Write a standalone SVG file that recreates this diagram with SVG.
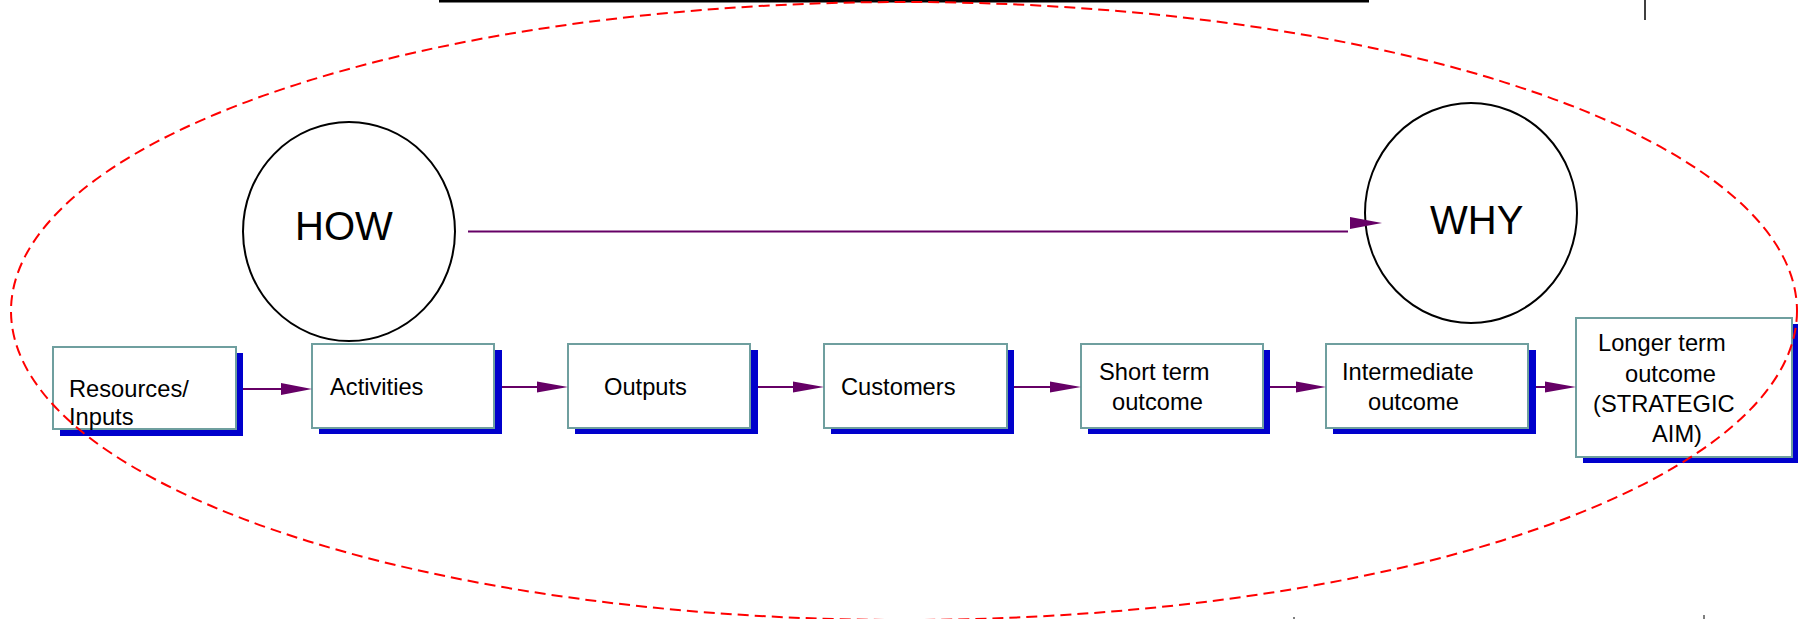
<svg xmlns="http://www.w3.org/2000/svg" width="1809" height="619" viewBox="0 0 1809 619">
<style>
.box{fill:#ffffff;stroke:#6f9f9f;stroke-width:2}
.shadow{fill:#0000cc}
.lbl{font-family:"Liberation Sans",Arial,sans-serif;font-size:23.7px;fill:#000}
.big{font-family:"Liberation Sans",Arial,sans-serif;font-size:40px;fill:#000}
.circ{fill:#fff;stroke:#000;stroke-width:2}
.conn{stroke:#660066;stroke-width:2;fill:none}
.head{fill:#660066}
</style>
<rect width="1809" height="619" fill="#fff"/>
<rect x="439" y="0" width="930" height="2.5" fill="#000"/>
<line x1="1645" y1="0" x2="1645" y2="20" stroke="#000" stroke-width="1.5"/>
<line x1="1294" y1="617" x2="1294" y2="619" stroke="#000" stroke-width="1"/>
<line x1="1704" y1="615" x2="1704" y2="619" stroke="#000" stroke-width="1"/>

<g id="how"><ellipse class="circ" cx="349" cy="231.5" rx="106" ry="109.5"/><text class="big" x="295" y="240">HOW</text></g>
<g id="why"><ellipse class="circ" cx="1471" cy="213" rx="106" ry="110"/><text class="big" x="1430" y="234">WHY</text></g>

<g id="resources"><rect class="shadow" x="60" y="353" width="183" height="83"/><rect class="box" x="53" y="347" width="183" height="82"/><text class="lbl" x="69" y="397">Resources/</text><text class="lbl" x="69" y="425">Inputs</text></g>
<g id="activities"><rect class="shadow" x="319" y="350" width="183" height="84"/><rect class="box" x="312" y="344" width="182" height="84"/><text class="lbl" x="330" y="395">Activities</text></g>
<g id="outputs"><rect class="shadow" x="575" y="350" width="183" height="84"/><rect class="box" x="568" y="344" width="182" height="84"/><text class="lbl" x="604" y="395">Outputs</text></g>
<g id="customers"><rect class="shadow" x="831" y="350" width="183" height="84"/><rect class="box" x="824" y="344" width="183" height="84"/><text class="lbl" x="841" y="395">Customers</text></g>
<g id="shortterm"><rect class="shadow" x="1088" y="350" width="182" height="84"/><rect class="box" x="1081" y="344" width="182" height="84"/><text class="lbl" x="1099" y="380">Short term</text><text class="lbl" x="1112" y="410">outcome</text></g>
<g id="intermediate"><rect class="shadow" x="1333" y="350" width="203" height="84"/><rect class="box" x="1326" y="344" width="202" height="84"/><text class="lbl" x="1342" y="380">Intermediate</text><text class="lbl" x="1368" y="410">outcome</text></g>
<g id="longterm"><rect class="shadow" x="1583" y="324" width="215" height="139"/><rect class="box" x="1576" y="318" width="216" height="139"/><text class="lbl" x="1598" y="351">Longer term</text><text class="lbl" x="1625" y="382">outcome</text><text class="lbl" x="1593" y="412">(STRATEGIC</text><text class="lbl" x="1652" y="442">AIM)</text></g>

<g id="connectors">
<line class="conn" x1="468" y1="231.5" x2="1348" y2="231.5"/>
<polygon class="head" points="1350,217 1382,223 1350,229"/>
<line class="conn" x1="243" y1="389" x2="285" y2="389"/>
<polygon class="head" points="281,383 312,389 281,395"/>
<line class="conn" x1="502" y1="387" x2="540" y2="387"/>
<polygon class="head" points="537,381.5 568,387 537,392.5"/>
<line class="conn" x1="758" y1="387" x2="796" y2="387"/>
<polygon class="head" points="793,381.5 824,387 793,392.5"/>
<line class="conn" x1="1014" y1="387" x2="1053" y2="387"/>
<polygon class="head" points="1050,381.5 1081,387 1050,392.5"/>
<line class="conn" x1="1270" y1="387" x2="1299" y2="387"/>
<polygon class="head" points="1296,381.5 1326,387 1296,392.5"/>
<line class="conn" x1="1536" y1="387" x2="1548" y2="387"/>
<polygon class="head" points="1545,381.5 1576,387 1545,392.5"/>
</g>

<ellipse cx="904" cy="311" rx="893" ry="309" fill="none" stroke="#ff0000" stroke-width="2" stroke-dasharray="11,6"/>
</svg>
